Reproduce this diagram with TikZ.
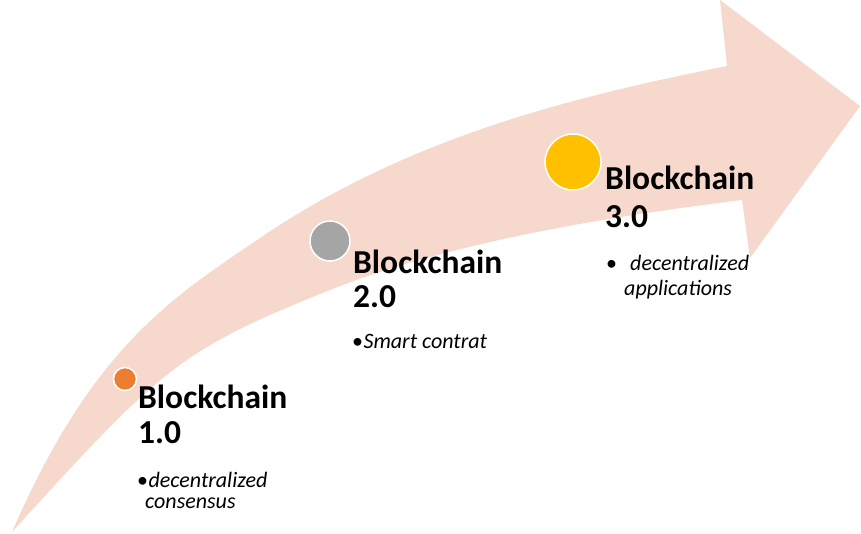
\documentclass[tikz,border=0pt]{standalone}
\usepackage{fontspec}
\setmainfont{Carlito}
\definecolor{arrowpink}{RGB}{247,216,205}
\definecolor{dotorange}{RGB}{237,125,49}
\definecolor{dotgray}{RGB}{165,165,165}
\definecolor{dotyellow}{RGB}{255,192,0}
\begin{document}
\begin{tikzpicture}[x=1pt,y=-1pt,
  dot/.style={circle,draw=white,line width=1.5pt,inner sep=0pt},
  head/.style={anchor=base west,inner sep=0pt,font=\fontsize{33.5}{35}\selectfont\bfseries},
  item/.style={anchor=base west,inner sep=0pt,font=\fontsize{22}{24}\selectfont\itshape},
  bul/.style={anchor=base west,inner sep=0pt,font=\fontsize{22}{24}\selectfont}]
\useasboundingbox (0,0) rectangle (861,533);
% big curved arrow
\fill[arrowpink]
  (12,532) .. controls (92,348) and (170,299) .. (260,238)
  .. controls (410,136) and (577,96) .. (727,66)
  -- (720,0) -- (860,106) -- (750,258) -- (742,200)
  .. controls (612,216) and (450,242) .. (330,290)
  .. controls (180,350) and (162,367) .. (12,532)
  -- cycle;
% dots
\node[dot,fill=dotorange,minimum size=23pt] (d1) at (125,379) {};
\node[dot,fill=dotgray,minimum size=40pt] (d2) at (330,241) {};
\node[dot,fill=dotyellow,minimum size=56pt] (d3) at (573,162) {};
% Blockchain 1.0
\node[head] (h1a) at (138,408) {Blockchain};
\node[head] (h1b) at (138,443) {1.0};
\node[bul] (b1) at (137,487) {•};
\node[item] (t1a) at (b1.base east) {decentralized};
\node[item] (t1b) at (145,508) {consensus};
% Blockchain 2.0
\node[head] (h2a) at (353,273) {Blockchain};
\node[head] (h2b) at (353,307) {2.0};
\node[bul] (b2) at (352,348) {•};
\node[item] (t2) at (b2.base east) {Smart contrat};
% Blockchain 3.0
\node[head] (h3a) at (605,189) {Blockchain};
\node[head] (h3b) at (605,227) {3.0};
\node[bul] (b3) at (606,270) {•};
\node[item] (t3a) at (630,270) {decentralized};
\node[item] (t3b) at (624,295) {applications};
\end{tikzpicture}
\end{document}
